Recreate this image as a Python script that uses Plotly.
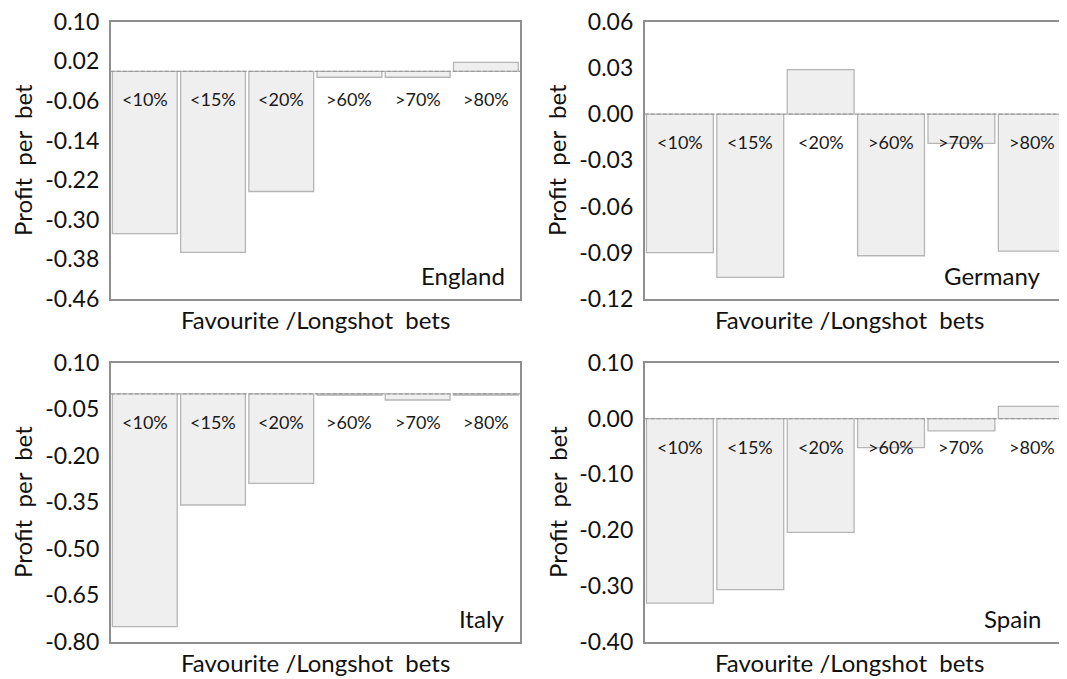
import plotly.graph_objects as go

# ---------------- data ----------------
categories = ["<10%", "<15%", "<20%", ">60%", ">70%", ">80%"]

england = [-0.328, -0.366, -0.243, -0.012, -0.012, 0.018]
germany = [-0.090, -0.106, 0.029, -0.092, -0.019, -0.089]
italy = [-0.752, -0.359, -0.289, -0.004, -0.020, -0.004]
spain = [-0.331, -0.307, -0.204, -0.052, -0.022, 0.022]

england_ticks = [0.10, 0.02, -0.06, -0.14, -0.22, -0.30, -0.38, -0.46]
germany_ticks = [0.06, 0.03, 0.00, -0.03, -0.06, -0.09, -0.12]
italy_ticks = [0.10, -0.05, -0.20, -0.35, -0.50, -0.65, -0.80]
spain_ticks = [0.10, 0.00, -0.10, -0.20, -0.30, -0.40]

countries = ["England", "Germany", "Italy", "Spain"]
y_title = "Profit\u00a0 per\u00a0 bet"
x_title = "Favourite /Longshot\u00a0 bets"

# ---------------- style / layout ----------------
OFF = 8  # page body margin
W, H = 1067 - OFF, 679 - OFF
FONT = "Lato"
TXT = "#111111"
AXIS_COLOR = "#8f8f8f"
BAR_FILL = "#efefef"
BAR_LINE = "#b5b5b5"

def px_x(p):
    return (p - OFF) / W

def px_y(p):
    return 1 - (p - OFF) / H

x_left = [px_x(110.7), px_x(520.0)]
x_right = [px_x(644.7), 1.0]
y_top = [px_y(299.0), px_y(21.7)]
y_bot = [px_y(641.7), px_y(362.7)]

panels = [
    dict(vals=england, ticks=england_ticks, x0=110.7, yb=299.0, yt=21.7, xd=x_left, yd=y_top, right=False),
    dict(vals=germany, ticks=germany_ticks, x0=644.7, yb=299.0, yt=21.7, xd=x_right, yd=y_top, right=True),
    dict(vals=italy, ticks=italy_ticks, x0=110.7, yb=641.7, yt=362.7, xd=x_left, yd=y_bot, right=False),
    dict(vals=spain, ticks=spain_ticks, x0=644.7, yb=641.7, yt=362.7, xd=x_right, yd=y_bot, right=True),
]

fig = go.Figure()
layout = dict(
    width=W, height=H, autosize=False,
    margin=dict(l=0, r=0, t=0, b=0, pad=0),
    paper_bgcolor="white", plot_bgcolor="white",
    showlegend=False, bargap=0.05,
    font=dict(family=FONT, color=TXT),
)
annotations = []
shapes = []

for i, p in enumerate(panels):
    n = "" if i == 0 else str(i + 1)
    xa, ya = "x" + n, "y" + n
    fig.add_trace(go.Bar(
        x=categories, y=p["vals"], xaxis=xa, yaxis=ya,
        marker=dict(color=BAR_FILL, line=dict(color=BAR_LINE, width=1.3)),
        hoverinfo="skip",
    ))
    tv = p["ticks"]
    lo, hi = min(tv), max(tv)
    eps = (hi - lo) * 0.0005
    layout["xaxis" + n] = dict(
        domain=p["xd"], anchor=ya, type="category", range=[-0.5, 5.5],
        showticklabels=False, showgrid=False, zeroline=False,
        showline=True, mirror=True, linecolor=AXIS_COLOR, linewidth=1.6,
        ticks="", automargin=False,
    )
    layout["yaxis" + n] = dict(
        domain=p["yd"], anchor=xa, range=[lo - eps, hi + eps],
        tickvals=tv, ticktext=["%.2f" % v for v in tv],
        tickfont=dict(family=FONT, size=23, color=TXT),
        showgrid=False, zeroline=False,
        showline=True, mirror=(not p["right"]), linecolor=AXIS_COLOR, linewidth=1.6,
        ticks="", ticklabelstandoff=5, automargin=False,
        ticklabeloverflow="allow",
    )
    # dashed zero line
    shapes.append(dict(
        type="line", xref=xa + " domain", yref=ya, x0=0, x1=1, y0=0, y1=0,
        line=dict(color="#9a9a9a", width=1.3, dash="4px,2px"), layer="above",
    ))
    # category labels just below the zero line
    for c in categories:
        annotations.append(dict(
            x=c, y=0, xref=xa, yref=ya, text=c, showarrow=False,
            yshift=-28, font=dict(family=FONT, size=18, color="#1a1a1a"),
        ))
    # country name in bottom-right corner
    right_edge = p["x0"] + (396.3 if not p["right"] else 398.6)
    annotations.append(dict(
        x=px_x(right_edge), y=px_y(p["yb"] - 23.5), xref="paper", yref="paper",
        text=countries[i], showarrow=False, xanchor="right", yanchor="middle",
        font=dict(family=FONT, size=24, color=TXT),
    ))
    # axis titles
    annotations.append(dict(
        x=px_x(p["x0"] + 204.6), y=px_y(p["yb"] + 21), xref="paper", yref="paper",
        text=x_title, showarrow=False, xanchor="center", yanchor="middle",
        font=dict(family=FONT, size=24, color=TXT),
    ))
    annotations.append(dict(
        x=px_x(p["x0"] - 88), y=px_y((p["yb"] + p["yt"]) / 2),
        xref="paper", yref="paper", text=y_title, textangle=-90,
        showarrow=False, xanchor="center", yanchor="middle",
        font=dict(family=FONT, size=24, color=TXT),
    ))

layout["annotations"] = annotations
layout["shapes"] = shapes
fig.update_layout(**layout)
fig.write_html("out.html")
